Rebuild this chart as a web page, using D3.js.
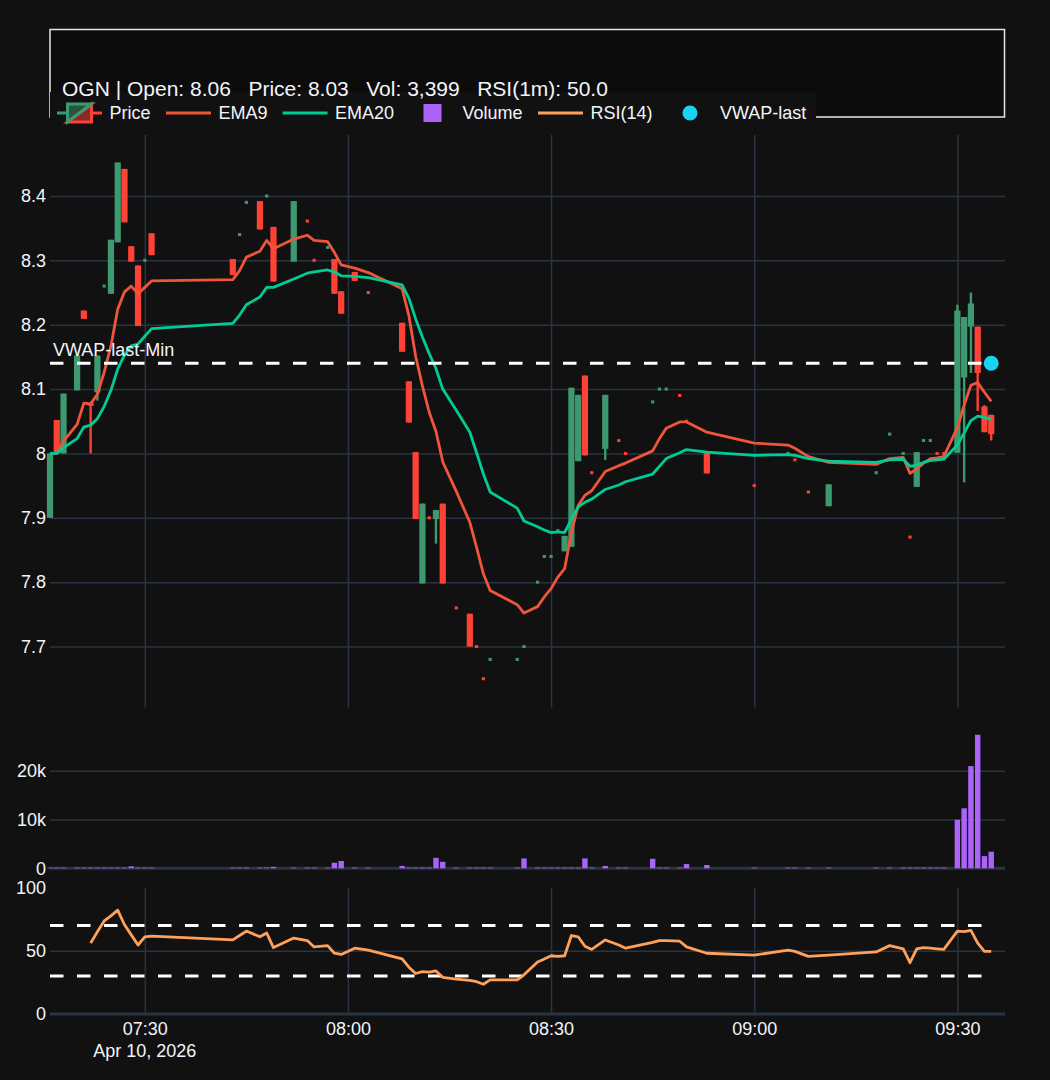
<!DOCTYPE html>
<html><head><meta charset="utf-8">
<script src="https://cdn.jsdelivr.net/npm/d3@7"></script>
<style>
html,body{margin:0;padding:0;background:#111111;}
svg{display:block;}
text{font-family:"Liberation Sans",Arial,Helvetica,sans-serif;fill:#f2f5fa;}
</style></head><body>
<svg id="chart" width="1050" height="1080"></svg>
<script>
// ---------------- DATA ----------------
const day = "2026-04-10";
const times = ["07:16","07:17","07:18","07:20","07:21","07:22","07:23","07:24","07:25","07:26","07:27","07:28","07:29","07:30","07:31",
"07:43","07:44","07:45","07:47","07:48","07:49","07:52","07:54","07:55","07:57","07:58","07:59","08:01","08:03",
"08:08","08:09","08:10","08:11","08:12","08:13","08:14","08:16","08:18","08:19","08:20","08:21","08:25","08:26",
"08:28","08:29","08:30","08:31","08:32","08:33","08:34","08:35","08:36","08:38","08:40","08:41","08:45","08:46",
"08:47","08:49","08:50","08:53","09:00","09:05","09:06","09:08","09:11","09:18","09:20","09:22","09:23","09:24",
"09:25","09:26","09:27","09:28","09:30","09:31","09:32","09:33","09:34","09:35"];
const open = [7.90,8.052,8.00,8.098,8.222,8.078,8.095,8.259,8.248,8.328,8.442,8.322,8.292,8.299,8.342,
8.302,8.339,8.389,8.392,8.399,8.352,8.298,8.362,8.301,8.319,8.302,8.252,8.282,8.251,
8.203,8.112,8.002,7.798,7.901,7.898,7.922,7.761,7.751,7.701,7.651,7.679,7.679,7.699,
7.799,7.839,7.839,7.879,7.848,7.855,7.988,8.121,7.971,8.007,8.021,8.001,8.079,8.099,
8.099,8.091,8.051,8.001,7.951,7.999,7.991,7.941,7.918,7.969,8.029,7.999,7.871,7.948,
8.019,8.019,8.001,8.001,8.001,8.118,8.197,8.197,8.073,8.06];
const high = [8.00,8.052,8.093,8.152,8.222,8.078,8.152,8.26,8.332,8.452,8.442,8.322,8.292,8.30,8.342,
8.302,8.34,8.39,8.392,8.40,8.352,8.392,8.362,8.301,8.32,8.302,8.252,8.282,8.251,
8.203,8.112,8.002,7.922,7.901,7.912,7.922,7.761,7.751,7.701,7.651,7.68,7.68,7.70,
7.80,7.84,7.84,7.88,7.872,8.102,8.091,8.121,7.971,8.091,8.021,8.001,8.08,8.10,
8.10,8.091,8.051,8.001,7.951,8.00,7.991,7.941,7.952,7.97,8.03,8.00,7.871,8.002,
8.02,8.02,8.001,8.001,8.231,8.212,8.25,8.197,8.075,8.06];
const low = [7.90,8.00,8.00,8.098,8.209,8.00,8.082,8.259,8.248,8.328,8.359,8.298,8.198,8.299,8.308,
8.277,8.339,8.389,8.348,8.399,8.267,8.298,8.361,8.30,8.319,8.248,8.217,8.268,8.25,
8.158,8.048,7.898,7.798,7.90,7.86,7.798,7.76,7.70,7.70,7.65,7.679,7.679,7.699,
7.799,7.839,7.839,7.879,7.848,7.855,7.988,7.997,7.97,7.99,8.02,8.00,8.079,8.099,
8.099,8.09,8.05,7.969,7.95,7.999,7.99,7.94,7.918,7.969,8.029,7.999,7.87,7.948,
8.019,8.019,8.00,8.00,8.001,7.955,8.125,8.066,8.033,8.02];
const close = [8.00,8.00,8.093,8.152,8.209,8.074,8.152,8.26,8.332,8.452,8.359,8.298,8.198,8.30,8.308,
8.277,8.34,8.39,8.348,8.40,8.267,8.392,8.361,8.30,8.32,8.248,8.217,8.268,8.25,
8.158,8.048,7.898,7.922,7.90,7.912,7.798,7.76,7.70,7.70,7.65,7.68,7.68,7.70,
7.80,7.84,7.84,7.88,7.872,8.102,8.091,7.997,7.97,8.091,8.02,8.00,8.08,8.10,
8.10,8.09,8.05,7.969,7.95,8.00,7.99,7.94,7.952,7.97,8.03,8.00,7.87,8.002,
8.02,8.02,8.00,8.00,8.222,8.212,8.233,8.125,8.033,8.03];
const volume = [150,150,150,150,150,150,150,150,150,150,150,400,150,150,150,
150,150,150,150,150,300,150,150,150,150,1150,1500,150,150,
480,150,150,150,150,2150,1340,150,150,150,150,150,150,2030,
150,150,150,150,150,150,150,2030,150,480,150,150,1950,150,
150,150,870,670,150,150,150,150,150,150,150,150,150,150,
150,150,150,150,9950,12300,20950,27380,2500,3399];
const ema9 = [8.000,8.000,8.019,8.045,8.078,8.077,8.092,8.126,8.167,8.224,8.251,8.260,8.248,8.258,8.268,
8.270,8.284,8.305,8.314,8.331,8.318,8.333,8.339,8.331,8.329,8.312,8.293,8.288,8.281,
8.256,8.214,8.151,8.105,8.064,8.034,7.987,7.941,7.893,7.854,7.813,7.787,7.765,7.752,
7.762,7.777,7.790,7.808,7.821,7.877,7.919,7.935,7.942,7.972,7.981,7.985,8.004,8.023,
8.039,8.049,8.049,8.033,8.016,8.013,8.008,7.995,7.986,7.983,7.992,7.994,7.969,7.976,
7.985,7.992,7.993,7.995,8.040,8.075,8.106,8.110,8.095,8.081];
const ema20 = [8.000,8.000,8.009,8.023,8.041,8.044,8.054,8.073,8.098,8.131,8.153,8.167,8.170,8.182,8.194,
8.202,8.215,8.231,8.243,8.258,8.258,8.271,8.280,8.282,8.285,8.282,8.276,8.275,8.273,
8.262,8.241,8.209,8.181,8.155,8.132,8.100,8.067,8.033,8.001,7.968,7.940,7.915,7.895,
7.886,7.881,7.877,7.878,7.877,7.898,7.917,7.924,7.929,7.944,7.951,7.956,7.968,7.980,
7.992,8.001,8.006,8.002,7.997,7.998,7.997,7.992,7.988,7.986,7.990,7.991,7.980,7.982,
7.986,7.989,7.990,7.991,8.013,8.032,8.051,8.058,8.056,8.053];
const rsi = [null,null,null,null,null,56,65,73.5,77.5,82,70.5,62.5,54.5,61,61.5,
58.5,62,65.5,61,64,52.5,60,58,53,54,48,47,52,50.5,
43.5,37,32,33.5,33,34,29,27.5,26.5,25.5,23.5,27,27,31,
41,43.5,46,45.5,46,62,61,53.5,51,58.5,54.5,52,56.5,58,
58,57.5,53,48,46.5,50.5,49.5,45.5,46.5,49,54,51.5,40.5,51.5,
52.5,52,51.5,51,65.5,65,66,56,49.5,49.5];
const vwapLast = 8.14;
const rsiLevels = [70, 30];
const xTickTimes = ["07:30","08:00","08:30","09:00","09:30"];
const xDomain = ["07:16","09:37"];
const priceTicks = [7.7,7.8,7.9,8.0,8.1,8.2,8.3,8.4];
const priceTickLabels = ["7.7","7.8","7.9","8","8.1","8.2","8.3","8.4"];
const volTicks = [0,10000,20000];
const volTickLabels = ["0","10k","20k"];
const rsiTicks = [0,50,100];
const titleText = "OGN | Open: 8.06   Price: 8.03   Vol: 3,399   RSI(1m): 50.0";
const dateLabel = "Apr 10, 2026";
const legendNames = ["Price","EMA9","EMA20","Volume","RSI(14)","VWAP-last"];

// ---------------- STYLE ----------------
const C = {bg:"#111111", grid:"#283442", up:"#3D9970", down:"#FF4136",
  ema9:"#EF553B", ema20:"#00CC96", vol:"#AB63FA", rsi:"#FFA15A", vwap:"#19D3F3", text:"#f2f5fa"};
const L = {left:50, right:1005, pTop:135, pBot:707.5, vTop:727.8, vBot:868.3, rTop:887.4, rBot:1014};

const parse = d3.timeParse("%Y-%m-%d %H:%M");
const T = times.map(t => parse(day + " " + t));
const data = T.map((t,i) => ({t, o:open[i], h:high[i], l:low[i], c:close[i], v:volume[i], e9:ema9[i], e20:ema20[i], r:rsi[i]}));

const svg = d3.select("#chart");
svg.append("rect").attr("width",1050).attr("height",1080).attr("fill",C.bg);

const d0 = parse(day+" "+xDomain[0]);
const d1 = new Date(parse(day+" "+xDomain[1]).getTime() + 2000);
const x = d3.scaleTime().domain([d0, d1]).range([L.left, L.right]);
const yP = d3.scaleLinear().domain([7.6053, 8.4947]).range([L.pBot, L.pTop]);
const yV = d3.scaleLinear().domain([0, 28800]).range([L.vBot, L.vTop]);
const yR = d3.scaleLinear().domain([0, 100]).range([L.rBot, L.rTop]);
const minPx = x(new Date(d0.getTime()+60000)) - x(d0);
const W = L.right - L.left;

// ---------------- GRIDS ----------------
function hGrid(scale, ticks, skip) {
  const g = svg.append("g").attr("transform",`translate(${L.left},0)`)
    .call(d3.axisLeft(scale).tickValues(ticks.filter(t=>!skip.includes(t))).tickSize(-W).tickFormat(""));
  g.select(".domain").remove();
  g.selectAll("line").attr("stroke",C.grid).attr("stroke-width",1.5);
}
hGrid(yP, priceTicks, []);
hGrid(yV, volTicks, [0]);
hGrid(yR, rsiTicks, [0,100]);
const xTicks = xTickTimes.map(t => parse(day+" "+t));
function vGrid(top, bot) {
  const g = svg.append("g").attr("transform",`translate(0,${bot})`)
    .call(d3.axisBottom(x).tickValues(xTicks).tickSize(-(bot-top)).tickFormat(""));
  g.select(".domain").remove();
  g.selectAll("line").attr("stroke",C.grid).attr("stroke-width",1.5);
}
vGrid(L.pTop, L.pBot);
vGrid(L.rTop, L.rBot);
// zero lines
svg.append("line").attr("x1",L.left).attr("x2",L.right).attr("y1",yV(0)).attr("y2",yV(0)).attr("stroke",C.grid).attr("stroke-width",3);
svg.append("line").attr("x1",L.left).attr("x2",L.right).attr("y1",yR(0)).attr("y2",yR(0)).attr("stroke",C.grid).attr("stroke-width",3);

// ---------------- AXIS LABELS ----------------
function yLabels(scale, ticks, labels) {
  const g = svg.append("g").attr("transform",`translate(${L.left},0)`)
    .call(d3.axisLeft(scale).tickValues(ticks).tickSize(0).tickPadding(4).tickFormat((d,i)=>labels[i]));
  g.select(".domain").remove();
  g.selectAll("text").attr("font-size",18).attr("fill",C.text).style("font-family",'"Liberation Sans",Arial,sans-serif');
}
yLabels(yP, priceTicks, priceTickLabels);
yLabels(yV, volTicks, volTickLabels);
yLabels(yR, rsiTicks, rsiTicks.map(String));
const gx = svg.append("g").attr("transform",`translate(0,${L.rBot})`)
  .call(d3.axisBottom(x).tickValues(xTicks).tickSize(0).tickPadding(8).tickFormat(d3.timeFormat("%H:%M")));
gx.select(".domain").remove();
gx.selectAll("text").attr("font-size",18).attr("fill",C.text).style("font-family",'"Liberation Sans",Arial,sans-serif');
svg.append("text").attr("x",x(xTicks[0])).attr("y",1057).attr("text-anchor","middle").attr("font-size",18).text(dateLabel);

// ---------------- CANDLES ----------------
const gP = svg.append("g");
const bodyW = minPx*0.92;
data.forEach(d => {
  const col = d.c > d.o ? C.up : C.down;
  const xc = x(d.t);
  if (d.h - d.l < 0.003) {
    gP.append("rect").attr("x",xc-1.6).attr("y",yP(d.c)-1.5).attr("width",3.2).attr("height",3).attr("fill",col);
    return;
  }
  gP.append("line").attr("x1",xc).attr("x2",xc).attr("y1",yP(d.h)).attr("y2",yP(d.l)).attr("stroke",col).attr("stroke-width",2.4);
  const y1 = yP(Math.max(d.o,d.c)), y2 = yP(Math.min(d.o,d.c));
  const hh = Math.max(y2-y1, 2);
  gP.append("rect").attr("x",xc-bodyW/2).attr("y",y1).attr("width",bodyW).attr("height",hh).attr("fill",col);
});
const lineE9 = d3.line().x(d=>x(d.t)).y(d=>yP(d.e9));
const lineE20 = d3.line().x(d=>x(d.t)).y(d=>yP(d.e20));
svg.append("path").datum(data).attr("d",lineE9).attr("fill","none").attr("stroke",C.ema9).attr("stroke-width",2.8).attr("stroke-linejoin","round");
svg.append("path").datum(data).attr("d",lineE20).attr("fill","none").attr("stroke",C.ema20).attr("stroke-width",2.8).attr("stroke-linejoin","round");

// VWAP dashed line
const xFirst = x(T[0]), xLast = x(T[T.length-1]);
svg.append("line").attr("x1",xFirst).attr("x2",xLast).attr("y1",yP(vwapLast)).attr("y2",yP(vwapLast))
  .attr("stroke","#ffffff").attr("stroke-width",3).attr("stroke-dasharray","13.5,13.5");
svg.append("text").attr("x",53).attr("y",yP(vwapLast)-7).attr("font-size",18).text("VWAP-last-Min");
svg.append("circle").attr("cx",xLast).attr("cy",yP(vwapLast)).attr("r",7.5).attr("fill",C.vwap);

// ---------------- VOLUME ----------------
const barW = minPx*0.8;
svg.append("g").selectAll("rect").data(data).join("rect")
  .attr("x",d=>x(d.t)-barW/2).attr("y",d=>yV(d.v)).attr("width",barW).attr("height",d=>yV(0)-yV(d.v)).attr("fill",C.vol);

// ---------------- RSI ----------------
rsiLevels.forEach(lv => {
  svg.append("line").attr("x1",xFirst).attr("x2",xLast).attr("y1",yR(lv)).attr("y2",yR(lv))
    .attr("stroke","#ffffff").attr("stroke-width",3).attr("stroke-dasharray","13.5,13.5");
});
const lineR = d3.line().defined(d=>d.r!=null).x(d=>x(d.t)).y(d=>yR(d.r));
svg.append("path").datum(data).attr("d",lineR).attr("fill","none").attr("stroke",C.rsi).attr("stroke-width",2.8).attr("stroke-linejoin","round");

// ---------------- TITLE BOX & LEGEND ----------------
svg.append("rect").attr("x",50).attr("y",29.5).attr("width",954.5).attr("height",87.5)
  .attr("fill","#0c0c0c").attr("stroke","#e6e6e6").attr("stroke-width",1.5);
svg.append("rect").attr("x",50).attr("y",92).attr("width",766).attr("height",42).attr("fill",C.bg);
svg.append("text").attr("x",62).attr("y",96).attr("font-size",21).attr("xml:space","preserve").style("white-space","pre").text(titleText);
const legY = 113;
const legStarts = [49.5,158.5,275,402.5,530.5,660];
const gl = svg.append("g");
legendNames.forEach((name,i) => {
  const sx = legStarts[i];
  const g = gl.append("g").attr("transform",`translate(${sx},${legY})`);
  if (i===0) {
    const ic = g.append("g").attr("transform","translate(30,0) scale(1.5)");
    ic.append("path").attr("d","M15,0H8M8,-6V6H-8Z").attr("stroke",C.down).attr("stroke-width",2).attr("fill",C.down).attr("fill-opacity",0.5);
    ic.append("path").attr("d","M-15,0H-8M-8,6V-6H8Z").attr("stroke",C.up).attr("stroke-width",2).attr("fill",C.up).attr("fill-opacity",0.5);
  } else if (i===3) {
    g.append("rect").attr("x",21).attr("y",-9).attr("width",18).attr("height",18).attr("fill",C.vol);
  } else if (i===5) {
    g.append("circle").attr("cx",30).attr("cy",0).attr("r",7.5).attr("fill",C.vwap);
  } else {
    const col = i===1?C.ema9:(i===2?C.ema20:C.rsi);
    g.append("line").attr("x1",7.5).attr("x2",52.5).attr("y1",0).attr("y2",0).attr("stroke",col).attr("stroke-width",3);
  }
  g.append("text").attr("x",60).attr("y",6.3).attr("font-size",18).text(name);
});
</script>
</body></html>
